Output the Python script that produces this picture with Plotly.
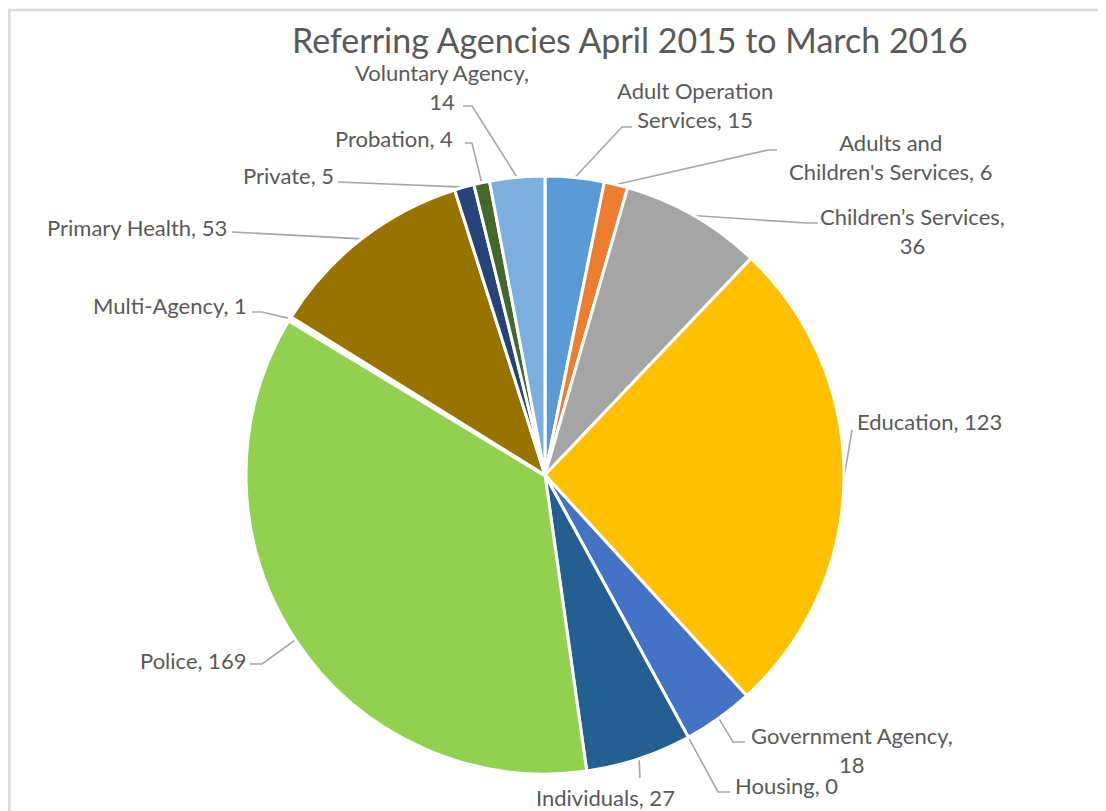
import math
import plotly.graph_objects as go

# ---------------- data ----------------
agencies = [
    "Adult Operation Services",
    "Adults and Children's Services",
    "Children\u2019s Services",
    "Education",
    "Government Agency",
    "Housing",
    "Individuals",
    "Police",
    "Multi-Agency",
    "Primary Health",
    "Private",
    "Probation",
    "Voluntary Agency",
]
referrals = [15, 6, 36, 123, 18, 0, 27, 169, 1, 53, 5, 4, 14]
slice_colors = [
    "#5B9BD5", "#ED7D31", "#A5A5A5", "#FFC000", "#4472C4", "#70AD47",
    "#255E91", "#92D050", "#636363", "#997300", "#264478", "#43682B", "#7CAFDD",
]
title_text = "Referring Agencies April 2015 to March 2016"

# ---------------- layout ----------------
W, H = 1106, 811
OFF = 8  # page body margin of the rendered html (px)
CX, CY, R = 545, 475, 299  # pie centre / radius in screen px

# label placement (screen px): text centre, line-break after word index (None = no break),
# leader elbow points (after slice edge)
label_layout = {
    "Adult Operation Services": dict(pos=(695, 105), brk=2, leader=[(622, 127), (632, 127)]),
    "Adults and Children's Services": dict(pos=(890, 157), brk=2, leader=[(768, 150), (777, 150)]),
    "Children\u2019s Services": dict(pos=(912, 231), brk=2, leader=[(806, 223), (818, 223)]),
    "Education": dict(pos=(929, 421), brk=None, leader=[(852, 430)]),
    "Government Agency": dict(pos=(852, 750), brk=2, leader=[(733, 742), (745, 742)]),
    "Housing": dict(pos=(786, 785), brk=None, leader=[(718, 792), (730, 792)]),
    "Individuals": dict(pos=(605, 797), brk=None, leader=[(640, 778)]),
    "Police": dict(pos=(193, 660), brk=None, leader=[(262, 664), (250, 664)]),
    "Multi-Agency": dict(pos=(170, 305), brk=None, leader=[(262, 312), (252, 312)]),
    "Primary Health": dict(pos=(137, 227), brk=None, leader=[(232, 232)]),
    "Private": dict(pos=(288, 175), brk=None, leader=[(338, 182)]),
    "Probation": dict(pos=(394, 138), brk=None, leader=[(472, 143), (465, 143)]),
    "Voluntary Agency": dict(pos=(442, 87), brk=2, leader=[(472, 106), (463, 106)]),
}
# white separator width per slice (tiny Multi-Agency slice is swallowed by its gap)
border_widths = [4.5 if a == "Multi-Agency" else 3 for a in agencies]

FONT = "Lato"
TXT = "#595959"


def px(x, y):
    return (x - OFF) / W, 1 - (y - OFF) / H


fig = go.Figure(
    go.Pie(
        labels=agencies,
        values=referrals,
        sort=False,
        direction="clockwise",
        rotation=0,
        marker=dict(colors=slice_colors, line=dict(color="white", width=border_widths)),
        textinfo="none",
        hoverinfo="label+value",
        showlegend=False,
        domain=dict(
            x=[(CX - OFF - R) / W, (CX - OFF + R) / W],
            y=[(H - (CY - OFF) - R) / H, (H - (CY - OFF) + R) / H],
        ),
    )
)

total = sum(referrals)
annotations = []
shapes = []
cum = 0.0
for name, val in zip(agencies, referrals):
    mid = (cum + val / 2) / total * 2 * math.pi
    cum += val
    sx = CX + R * math.sin(mid)
    sy = CY - R * math.cos(mid)
    cfg = label_layout[name]
    words = f"{name}, {val}".split(" ")
    if cfg["brk"] is not None:
        text = " ".join(words[: cfg["brk"]]) + "<br>" + " ".join(words[cfg["brk"]:])
    else:
        text = " ".join(words)
    lx, ly = cfg["pos"]
    ax, ay = px(lx, ly)
    annotations.append(
        dict(
            x=ax, y=ay, xref="paper", yref="paper", text=text, showarrow=False,
            xanchor="center", yanchor="middle", align="center",
            font=dict(family=FONT, size=22, color=TXT),
        )
    )
    pts = [(sx, sy)] + cfg["leader"]
    path = ""
    for i, (x, y) in enumerate(pts):
        qx, qy = px(x, y)
        path += ("M" if i == 0 else "L") + f"{qx},{qy} "
    shapes.append(
        dict(type="path", xref="paper", yref="paper", path=path.strip(),
             line=dict(color="#A6A6A6", width=1.6), layer="below")
    )

# chart-area border (open to the right and bottom)
bx0, by0 = px(8, 10)
bx0 = max(bx0, 0.0012)
shapes.append(dict(type="path", xref="paper", yref="paper",
                   path=f"M{bx0},0 L{bx0},{by0} L1,{by0}",
                   line=dict(color="#D9D9D9", width=2.5)))

tx, ty = px(630, 40)
annotations.append(
    dict(x=tx, y=ty, xref="paper", yref="paper", text=title_text, showarrow=False,
         xanchor="center", yanchor="middle",
         font=dict(family=FONT, size=34, color=TXT))
)

fig.update_layout(
    width=W, height=H,
    margin=dict(l=0, r=0, t=0, b=0),
    paper_bgcolor="white",
    plot_bgcolor="white",
    annotations=annotations,
    shapes=shapes,
)

fig.write_html("out.html")
